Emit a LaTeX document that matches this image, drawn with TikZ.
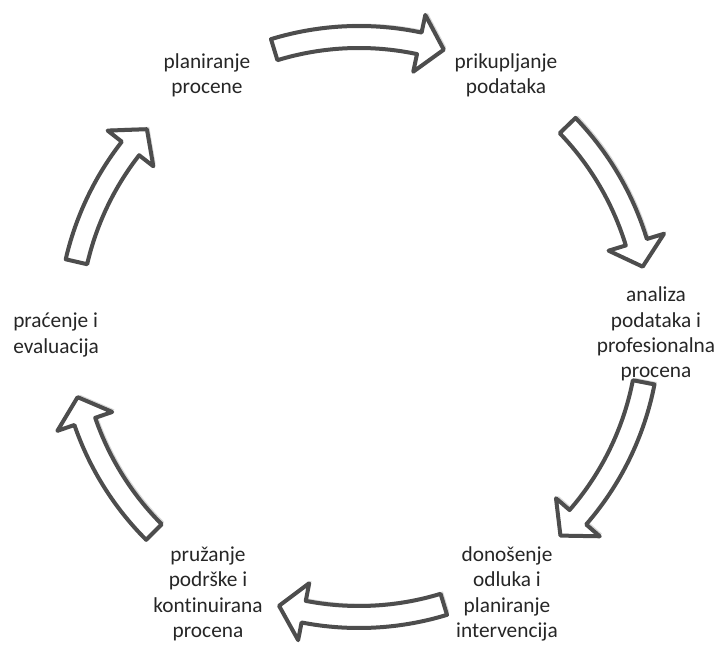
\documentclass[tikz,border=0pt]{standalone}
\usepackage{fontspec}
\setmainfont{Carlito}[Ligatures=NoCommon]
\usepackage{tikz}
\usetikzlibrary{shadows}

\begin{document}
\begin{tikzpicture}[x=0.75pt,y=0.75pt,yscale=-1,xscale=1,
  cyclearrow/.style={draw={rgb,255:red,77;green,77;blue,77}, line width=3pt, line join=round, fill=white,
    drop shadow={shadow xshift=1.8pt, shadow yshift=1.8pt, opacity=0.3}},
  steptext/.style={inner sep=0.75pt, align=center, text={rgb,255:red,38;green,38;blue,38}, font=\fontsize{16}{19}\selectfont}]
%set diagram size 722 x 656
\path (0,0) rectangle (722,656);
\begin{scope}[shift={(359,327)}]
%Curve Right Arrow [top]
\draw [cyclearrow] (-107:301) arc[start angle=-107, end angle=-78, radius=301] -- (-78:319) -- (-73:290) -- (-78:261) -- (-78:279) arc[start angle=-78, end angle=-107, radius=279] -- cycle ;
%Curve Right Arrow [upper right]
\draw [cyclearrow] (-44:301) arc[start angle=-44, end angle=-17, radius=301] -- (-17:319) -- (-12:290) -- (-17:261) -- (-17:279) arc[start angle=-17, end angle=-44, radius=279] -- cycle ;
%Curve Right Arrow [lower right]
\draw [cyclearrow] (11:301) arc[start angle=11, end angle=41, radius=301] -- (41:319) -- (46:290) -- (41:261) -- (41:279) arc[start angle=41, end angle=11, radius=279] -- cycle ;
%Curve Right Arrow [bottom]
\draw [cyclearrow] (73:301) arc[start angle=73, end angle=101, radius=301] -- (101:319) -- (106:290) -- (101:261) -- (101:279) arc[start angle=101, end angle=73, radius=279] -- cycle ;
%Curve Right Arrow [lower left]
\draw [cyclearrow] (-225:301) arc[start angle=-225, end angle=-199, radius=301] -- (-199:319) -- (-194:290) -- (-199:261) -- (-199:279) arc[start angle=-199, end angle=-225, radius=279] -- cycle ;
%Curve Right Arrow [upper left]
\draw [cyclearrow] (-167:301) arc[start angle=-167, end angle=-142, radius=301] -- (-142:319) -- (-137:290) -- (-142:261) -- (-142:279) arc[start angle=-142, end angle=-167, radius=279] -- cycle ;
\end{scope}
% Text Node
\node [steptext] (planning) at (207,75) {planiranje\\procene};
% Text Node
\node [steptext] (collecting) at (506,75) {prikupljanje\\podataka};
% Text Node
\node [steptext] (analysis) at (656,334) {analiza\\podataka i\\profesionalna\\procena};
% Text Node
\node [steptext] (deciding) at (507,594) {donošenje\\odluka i\\planiranje\\intervencija};
% Text Node
\node [steptext] (support) at (208,594) {pružanje\\podrške i\\kontinuirana\\procena};
% Text Node
\node [steptext, anchor=west, align=left] (monitoring) at (12,335) {praćenje i\\evaluacija};
\end{tikzpicture}
\end{document}
